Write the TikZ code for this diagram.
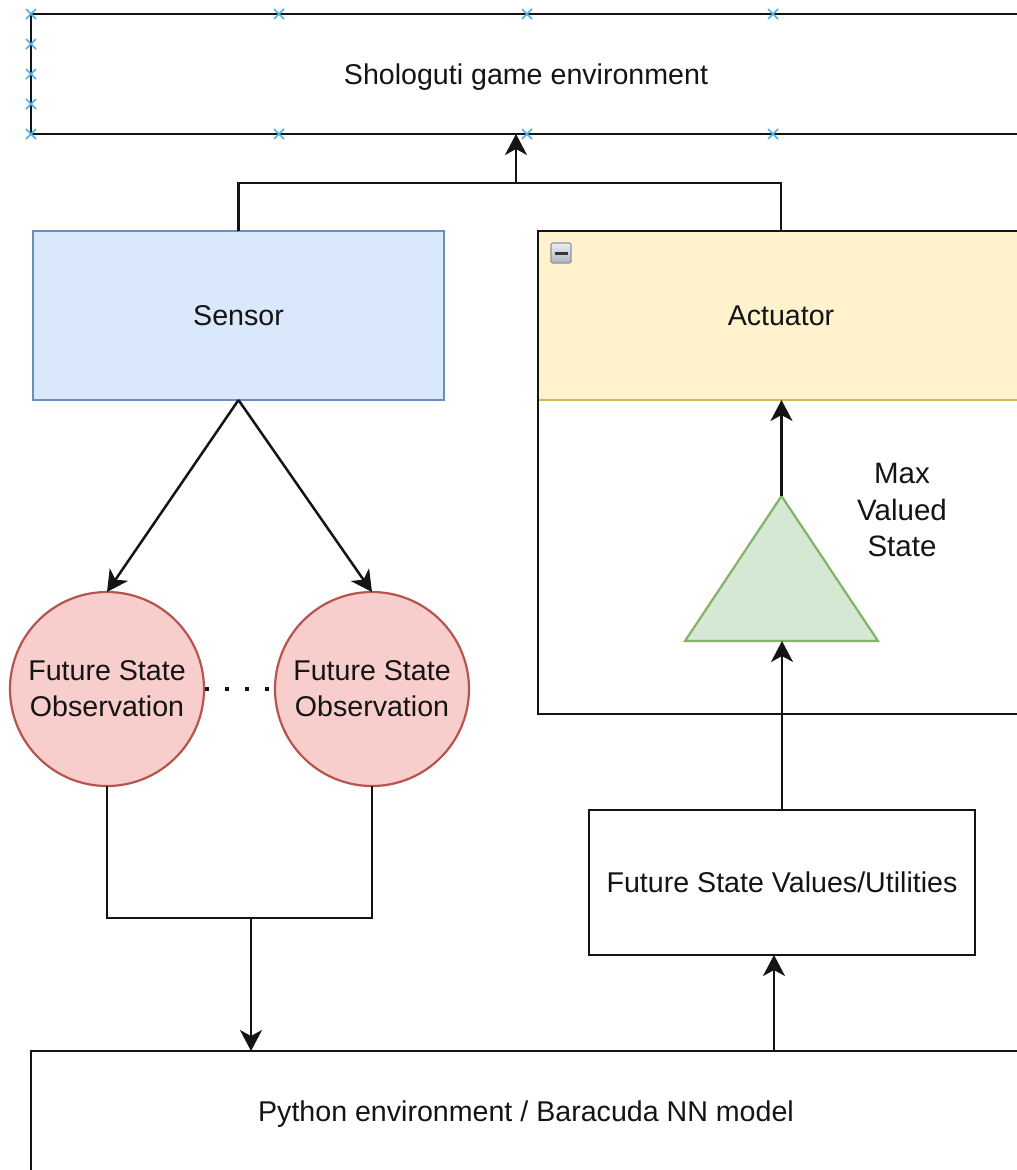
\documentclass[tikz,border=0pt]{standalone}
\usepackage{fontspec}
\setmainfont{Liberation Sans}
\usetikzlibrary{arrows.meta,shapes.misc}

\definecolor{sensorfill}{HTML}{DAE8FC}
\definecolor{sensorline}{HTML}{6C8EBF}
\definecolor{actfill}{HTML}{FFF2CC}
\definecolor{actline}{HTML}{D6B656}
\definecolor{obsfill}{HTML}{F8CECC}
\definecolor{obsline}{HTML}{B85450}
\definecolor{trifill}{HTML}{D5E8D4}
\definecolor{triline}{HTML}{82B366}
\definecolor{handlecol}{HTML}{4FB0E6}
\definecolor{inkcol}{HTML}{141414}
\definecolor{iconline}{HTML}{8C94A4}
\definecolor{icontop}{HTML}{ECEEF2}
\definecolor{iconbot}{HTML}{AEB4C0}

\tikzset{
  every node/.style={font=\fontsize{28.6}{36}\selectfont, text=inkcol, inner sep=0pt, outer sep=0pt, text depth=0pt},
  box/.style={draw=inkcol, line width=2.8pt, fill=white},
  sensorbox/.style={draw=sensorline, line width=2.4pt, fill=sensorfill},
  obs/.style={circle, draw=obsline, line width=2.2pt, fill=obsfill, minimum size=194pt, align=center},
  link/.style={draw=inkcol, line width=2.5pt},
  arr/.style={link, -{Stealth[length=21pt,width=22pt,inset=6pt]}},
  dotline/.style={draw=inkcol, line width=4pt, dash pattern=on 4pt off 16pt},
  handle/.style={cross out, draw=handlecol, line width=1.6pt, minimum size=10pt},
  collapser/.style={draw=iconline, line width=1.2pt, rounded corners=1.5pt,
    top color=icontop, bottom color=iconbot, minimum size=20pt}
}

\begin{document}
\begin{tikzpicture}[x=1pt,y=-1pt]
\fill[white] (0,0) rectangle (1017,1170);
\useasboundingbox (0,0) rectangle (1017,1170);
\clip (0,0) rectangle (1017,1170);

% game environment
\node[box, minimum width=990pt, minimum height=120pt] (env) at (526,74) {Shologuti game environment};

% sensor
\node[sensorbox, minimum width=411pt, minimum height=169pt] (sensor) at (238.5,315.5) {Sensor};

% actuator container: header, separator, outline
\node[fill=actfill, minimum width=486pt, minimum height=169pt] (act) at (781,315.5) {Actuator};
\draw[actline, line width=2.6pt] (act.south west) -- (act.south east);
\node[draw=inkcol, line width=2.8pt, minimum width=486pt, minimum height=483pt] (actbox) at (781,472.5) {};
\node[collapser] (collapse) at (561,253) {};
\draw[inkcol!85, line width=3pt] ([xshift=-6.5pt]collapse.center) -- ([xshift=6.5pt]collapse.center);

% observations
\node[obs] (obs1) at (107,689) {Future State\\Observation};
\node[obs] (obs2) at (372,689) {Future State\\Observation};
\draw[dotline] ([xshift=1pt]obs1.east) -- (obs2.west);

% max selector
\coordinate (tritop) at (781.5,496);
\coordinate (tribase) at (781.5,641);
\filldraw[fill=trifill, draw=triline, line width=2.2pt, line join=miter] (685,641) -- (tritop) -- (878,641) -- cycle;
\node[align=center, font=\fontsize{29.5}{36.5}\selectfont] (maxlbl) at (902,510) {Max\\Valued\\State};

% values and python model
\node[box, minimum width=386pt, minimum height=145pt] (val) at (782,882.5) {Future State Values/Utilities};
\node[box, minimum width=990pt, minimum height=120pt] (py) at (526,1111) {Python environment / Baracuda NN model};

% connectors
\coordinate (jtop) at (516,183);
\draw[link] (sensor.north) |- (jtop) -| (act.north);
\draw[arr] (jtop) -- (jtop |- env.south);

\draw[arr] (sensor.south) -- (obs1.north);
\draw[arr] (sensor.south) -- (obs2.north);

\coordinate (jbot) at (251,918);
\draw[link] (obs1.south) |- (jbot) -| (obs2.south);
\draw[arr] (jbot) -- (jbot |- py.north);

\draw[arr] (tritop) -- (tritop |- act.south);
\draw[arr] (val.north) -- (val.north |- tribase);

\coordinate (pyout) at (774,1051);
\draw[arr] (pyout) -- (pyout |- val.south);

% selection handles on the game environment box
\foreach \x in {31,279,527,773}{
  \node[handle] (ht\x) at (\x,14) {};
  \node[handle] (hb\x) at (\x,134) {};
}
\foreach \y in {44,74,104}{
  \node[handle] (hl\y) at (31,\y) {};
}
\end{tikzpicture}
\end{document}
